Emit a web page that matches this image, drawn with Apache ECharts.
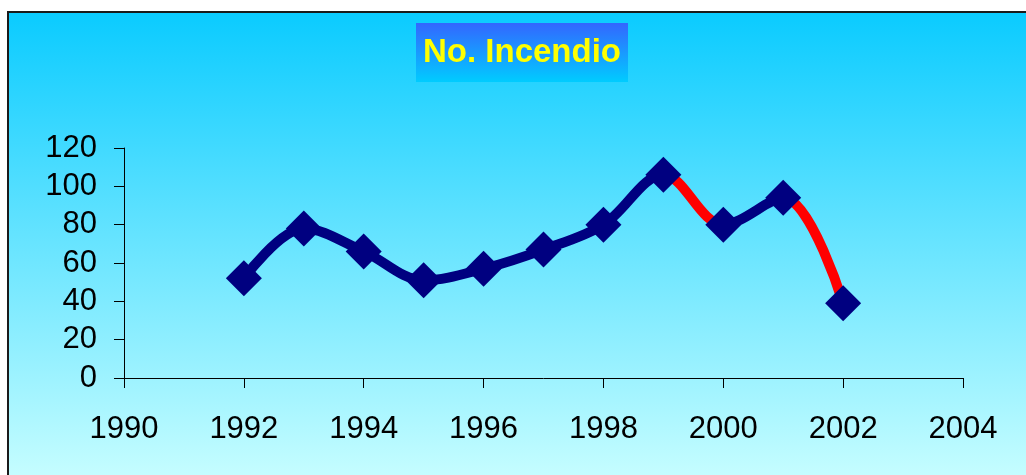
<!DOCTYPE html>
<html>
<head>
<meta charset="utf-8">
<style>
  html, body { margin: 0; padding: 0; background: #ffffff; }
  #chart { width: 1026px; height: 475px; }
</style>
<script src="https://cdn.jsdelivr.net/npm/echarts@6/dist/echarts.min.js"></script>
</head>
<body>
<div id="chart"></div>
<script>
// Fire counts per year
var years = [1992, 1993, 1994, 1995, 1996, 1997, 1998, 1999, 2000, 2001, 2002];
var fires = [52, 78, 66, 51, 57, 67, 80, 106, 80, 94, 39];
// Year spans whose connecting segment is drawn in red
var redSpans = [[1999, 2000], [2001, 2002]];
var titleText = 'No. Incendio';

var chart = echarts.init(document.getElementById('chart'), null, { renderer: 'canvas' });

var points = years.map(function (y, i) { return [y, fires[i]]; });
var pieces = redSpans.map(function (s) { return { gt: s[0], lt: s[1], color: '#ff0000' }; });

var axisFont = { fontFamily: 'Liberation Sans, Arial, sans-serif', fontSize: 31, color: '#000000' };

chart.setOption({
  animation: false,
  backgroundColor: '#ffffff',
  graphic: [{
    type: 'rect',
    z: -10,
    shape: { x: 8, y: 12, width: 1040, height: 480 },
    style: {
      fill: new echarts.graphic.LinearGradient(0, 0, 0, 1, [
        { offset: 0, color: '#0acbff' },
        { offset: 1, color: '#ccffff' }
      ]),
      stroke: '#1a1a1a',
      lineWidth: 2
    },
    silent: true
  }],
  title: {
    text: titleText,
    left: 416,
    top: 23,
    padding: [10, 7, 10, 7],
    backgroundColor: new echarts.graphic.LinearGradient(0, 0, 0, 1, [
      { offset: 0, color: '#3366ff' },
      { offset: 1, color: '#00ccff' }
    ]),
    textStyle: {
      fontFamily: 'Liberation Sans, Arial, sans-serif',
      fontWeight: 'bold',
      fontSize: 33,
      lineHeight: 39,
      color: '#ffff00'
    }
  },
  grid: { left: 124, top: 148, right: 63, bottom: 97, containLabel: false },
  xAxis: {
    type: 'value',
    min: 1990,
    max: 2004,
    interval: 2,
    splitLine: { show: false },
    axisLine: { show: true, onZero: false, lineStyle: { color: '#000000', width: 1 } },
    axisTick: { show: true, inside: false, length: 10, lineStyle: { color: '#000000' } },
    axisLabel: Object.assign({ margin: 36, formatter: function (v) { return String(v); } }, axisFont)
  },
  yAxis: {
    type: 'value',
    min: 0,
    max: 120,
    interval: 20,
    splitLine: { show: false },
    axisLine: { show: true, lineStyle: { color: '#000000', width: 1 } },
    axisTick: { show: true, inside: false, length: 10, lineStyle: { color: '#000000' } },
    axisLabel: Object.assign({ margin: 27 }, axisFont)
  },
  visualMap: {
    show: false,
    type: 'piecewise',
    dimension: 0,
    seriesIndex: 0,
    pieces: pieces,
    outOfRange: { color: '#000080' }
  },
  series: [{
    type: 'line',
    data: points,
    smooth: 0.35,
    symbol: 'diamond',
    symbolSize: 36,
    lineStyle: { width: 10, cap: 'round', join: 'round' },
    itemStyle: { color: '#000080' }
  }]
});
</script>
</body>
</html>
